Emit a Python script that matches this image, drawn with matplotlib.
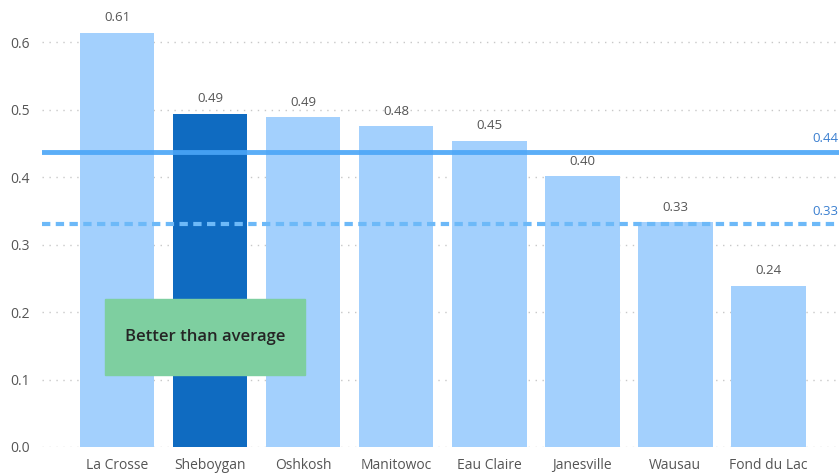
import numpy as np
import matplotlib
matplotlib.use("Agg")
from matplotlib import pyplot as plt

cities = ["La Crosse", "Sheboygan", "Oshkosh", "Manitowoc", "Eau Claire",
          "Janesville", "Wausau", "Fond du Lac"]
values = [0.614, 0.494, 0.489, 0.476, 0.454, 0.401, 0.333, 0.239]
highlight = "Sheboygan"
avg_value = 0.437
median_value = 0.330
note_text = "Better than average"

light = "#a3d0fd"
dark = "#0f6bc1"

plt.rcParams["font.family"] = ["Open Sans", "DejaVu Sans"]

fig = plt.figure(figsize=(8.39, 4.74), dpi=100)
ax = fig.add_axes([0.05, 0.057, 0.95, 0.925])

x = np.arange(len(cities))
colors = [dark if c == highlight else light for c in cities]
bars = ax.bar(x, values, width=0.8, color=colors, zorder=2)

for xi, v in zip(x, values):
    ax.annotate(f"{v:.2f}", (xi, v), xytext=(0, 6), textcoords="offset points",
                ha="center", va="bottom", fontsize=9.5, color="#555555")

# reference lines
ax.axhline(avg_value, color="#4aa5f7", lw=3.5, alpha=0.9, zorder=3)
ax.axhline(median_value, color="#6db9f8", lw=3, ls=(0, (2, 1.3)), zorder=3)
ax.text(7.75, avg_value + 0.01, f"{avg_value:.2f}", ha="right", va="bottom",
        fontsize=9.5, color="#3a7fd0")
ax.text(7.75, median_value + 0.01, f"{median_value:.2f}", ha="right", va="bottom",
        fontsize=9.5, color="#3a7fd0")

# note box
ax.add_patch(plt.Rectangle((-0.134, 0.107), 2.15, 0.112, color="#7ecfa0", zorder=4))
ax.text(0.94, 0.163, note_text, ha="center", va="center", fontsize=12,
        fontweight="semibold", color="#252525", zorder=5)

ax.set_xlim(-0.81, 7.76)
ax.set_ylim(0, 0.65)
ax.set_yticks(np.arange(0, 0.61, 0.1))
ax.set_yticklabels([f"{t:.1f}" for t in np.arange(0, 0.61, 0.1)])
ax.set_xticks(x)
ax.set_xticklabels(cities)
ax.tick_params(length=0, labelsize=10, colors="#555555", pad=8)
ax.tick_params(axis="y", pad=9)
ax.yaxis.grid(True, color="#c8c8c8", ls=(0, (1, 4)), lw=1, zorder=0)
for s in ax.spines.values():
    s.set_visible(False)

fig.savefig("out.png", dpi=100)
